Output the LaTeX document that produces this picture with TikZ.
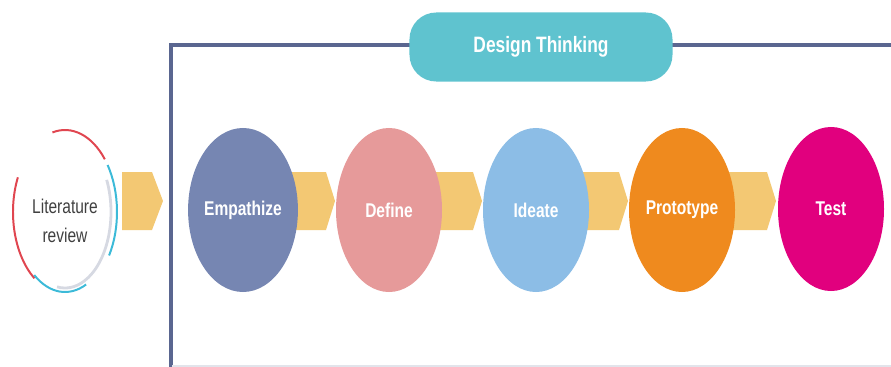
\documentclass[tikz,border=0pt]{standalone}
\usepackage{fontspec}
\setsansfont[FakeStretch=0.78]{Liberation Sans}
\usetikzlibrary{calc,shapes.geometric}

\definecolor{frameblue}{RGB}{90,102,144}
\definecolor{pillteal}{RGB}{95,195,207}
\definecolor{chevyellow}{RGB}{243,200,115}
\definecolor{empcol}{RGB}{118,134,178}
\definecolor{defcol}{RGB}{230,154,154}
\definecolor{idecol}{RGB}{140,189,230}
\definecolor{procol}{RGB}{239,138,30}
\definecolor{tstcol}{RGB}{225,0,126}
\definecolor{litred}{RGB}{224,70,80}
\definecolor{litcyan}{RGB}{60,186,216}
\definecolor{litgray}{RGB}{214,217,226}
\definecolor{littext}{RGB}{64,64,64}

\tikzset{
  phase/.style={ellipse, minimum width=3.18cm, minimum height=4.92cm, inner sep=0pt,
    text=white, font=\sffamily\bfseries\fontsize{17}{19}\selectfont},
  chev/.style={fill=chevyellow},
  ring/.style={line width=1.7pt}
}

\begin{document}
\begin{tikzpicture}[x=0.03cm, y=-0.03cm]
  \useasboundingbox (0,0) rectangle (891,367);

  % frame
  \draw[frameblue, line width=2.6pt] (171,367) -- (171,45) -- (891,45);
  \draw[litgray!70, line width=1pt] (172,366) -- (891,366);

  \node[fill=pillteal, rounded corners=0.8cm, minimum width=7.89cm, minimum height=2.07cm,
        text=white, font=\sffamily\bfseries\fontsize{19}{21}\selectfont] (dt) at (541,47) {Design Thinking};

  % literature review
  \node[align=center, text=littext, font=\sffamily\fontsize{17}{25}\selectfont] (lit) at (65,221) {Literature\\review};
  \coordinate (litc) at (65,212);
  \draw[ring, litgray, line width=2.4pt] ($(litc)+(-25:46 and 76)$) arc[start angle=-25, end angle=100, x radius=46, y radius=76];
  \draw[ring, litred] ($(litc)+(-104:52 and 82)$) arc[start angle=-104, end angle=-40, x radius=52, y radius=82];
  \draw[ring, litred] ($(litc)+(126:52 and 82)$) arc[start angle=126, end angle=205, x radius=52, y radius=82];
  \draw[ring, litcyan] ($(litc)+(-35:52 and 82)$) arc[start angle=-35, end angle=32, x radius=52, y radius=82];
  \draw[ring, litcyan] ($(litc)+(65:50 and 80)$) arc[start angle=65, end angle=128, x radius=50, y radius=80];

  % chevrons
  \fill[chev] (122,172) -- (152,172) -- (163,201) -- (152,230) -- (122,230) -- cycle;
  \coordinate (emp0) at (243,210);
  \coordinate (def0) at (389,210);
  \coordinate (ide0) at (536,210);
  \coordinate (pro0) at (682,210);
  \fill[chev] ($(emp0)+(0,-38)$) -- ($(def0)+(-63,-38)$) -- ($(def0)+(-54,-9)$) -- ($(def0)+(-63,20)$) -- ($(emp0)+(0,20)$) -- cycle;
  \fill[chev] ($(def0)+(0,-38)$) -- ($(ide0)+(-63,-38)$) -- ($(ide0)+(-54,-9)$) -- ($(ide0)+(-63,20)$) -- ($(def0)+(0,20)$) -- cycle;
  \fill[chev] ($(ide0)+(0,-38)$) -- ($(pro0)+(-63,-38)$) -- ($(pro0)+(-54,-9)$) -- ($(pro0)+(-63,20)$) -- ($(ide0)+(0,20)$) -- cycle;
  \fill[chev] ($(pro0)+(0,-38)$) -- (767,172) -- (776,201) -- (767,230) -- ($(pro0)+(0,20)$) -- cycle;

  % phases
  \begin{scope}[every node/.style={phase}]
    \node[fill=empcol] (emp) at (emp0) {Empathize};
    \node[fill=defcol] (def) at (def0) {Define};
    \node[fill=idecol] (ide) at (ide0) {Ideate};
    \node[fill=procol] (pro) at (pro0) {Prototype};
    \node[fill=tstcol] (tst) at (831,209) {Test};
  \end{scope}

\end{tikzpicture}
\end{document}
